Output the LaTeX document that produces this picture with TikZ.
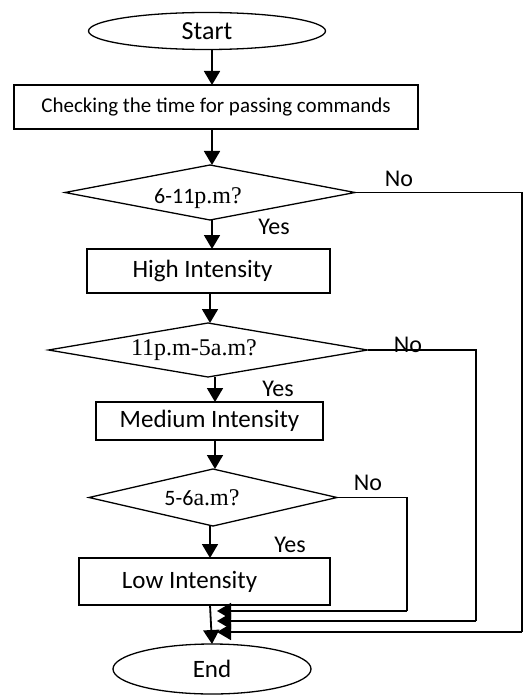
\documentclass[tikz,border=0pt]{standalone}
\usepackage{fontspec}
\setmainfont{Carlito}
\newfontfamily\serifpart{Liberation Serif}
\newcommand{\spfont}{\fontsize{24}{28}\serifpart}
\usetikzlibrary{shapes.geometric,arrows.meta,calc}
\begin{document}
\begin{tikzpicture}[x=1pt,y=-1pt,
  every node/.style={inner sep=0pt, outer sep=0pt},
  base/.style={draw=black, line width=1.3pt},
  term/.style={base, ellipse, font=\fontsize{26}{30}\selectfont},
  procbox/.style={base, rectangle, font=\fontsize{25}{30}\selectfont},
  decide/.style={base, diamond, aspect=5},
  dtext/.style={font=\fontsize{22}{26}\selectfont},
  lbl/.style={font=\fontsize{24}{28}\selectfont},
  arr/.style={line width=1.8pt, -{Triangle[length=14pt,width=16pt]}},
  line/.style={line width=1.5pt},
]
\useasboundingbox (0,0) rectangle (528,695);
\node[term, minimum width=237pt, minimum height=37pt] (start) at (207,31) {Start};
\node[procbox, minimum width=404pt, minimum height=44pt, font=\fontsize{21}{26}\selectfont] (check) at (216,107) {Checking the time for passing commands};
\node[decide, minimum width=290pt, minimum height=55pt] (d1) at (210,192.5) {};
\node[dtext] (d1t) at (198,198) {6-11{\spfont p.m?}};
\node[procbox, minimum width=243pt, minimum height=44pt] (high) at (208.5,271) {\hspace*{-12pt}High Intensity};
\node[decide, minimum width=319pt, minimum height=54pt] (d2) at (208,350) {};
\node[dtext] (d2t) at (194,350) {\spfont 11p.m-5a.m?};
\node[procbox, minimum width=227pt, minimum height=38pt] (med) at (209.5,421) {Medium Intensity};
\node[decide, minimum width=248pt, minimum height=57pt] (d3) at (213,497.5) {};
\node[dtext] (d3t) at (202,498) {5-6{\spfont a.m?}};
\node[procbox, minimum width=251pt, minimum height=47pt] (low) at (204.5,581.5) {\hspace*{-30pt}Low Intensity};
\node[term, minimum width=198pt, minimum height=50pt, font=\fontsize{25}{30}\selectfont] (end) at (212,669) {End};

\node[lbl] (no1) at (399,179) {No};
\node[lbl] (no2) at (408,345) {No};
\node[lbl] (no3) at (368,483) {No};
\node[lbl] (yes1) at (274,227) {Yes};
\node[lbl] (yes2) at (278,389) {Yes};
\node[lbl] (yes3) at (290,545) {Yes};

\coordinate (r1) at (522,192.5);
\coordinate (r2) at (476,350);
\coordinate (r3) at (407,497.5);
\coordinate (m1) at (217,632);
\coordinate (m2) at (217,621);
\coordinate (m3) at (217,611);

\draw[arr] ($(start.south)+(5,0)$) -- ($(start.south |- check.north)+(5,0)$);
\draw[arr] ($(check.south)+(-4,0)$) -- ($(check.south |- d1.north)+(-4,0)$);
\draw[arr] ($(d1.south)+(2,0)$) -- ($(d1.south |- high.north)+(2,0)$);
\draw[arr] ($(high.south)+(1.5,0)$) -- ($(high.south |- d2.north)+(1.5,0)$);
\draw[arr] ($(d2.south)+(7,0)$) -- ($(d2.south |- med.north)+(7,0)$);
\draw[arr] ($(med.south)+(5.5,0)$) -- ($(med.south |- d3.north)+(5.5,0)$);
\draw[arr] ($(d3.south)+(-3,0)$) -- ($(d3.south |- low.north)+(-3,0)$);
\draw[arr] ($(low.south)+(5.5,0)$) -- (end.north);

\draw[line] (d1.east) -- (r1) -- (r1 |- m1);
\draw[arr] (r1 |- m1) -- (m1);
\draw[line] (d2.east) -- (r2) -- (r2 |- m2);
\draw[arr] (r2 |- m2) -- (m2);
\draw[line] (d3.east) -- (r3) -- (r3 |- m3);
\draw[arr] (r3 |- m3) -- (m3);
\end{tikzpicture}
\end{document}
